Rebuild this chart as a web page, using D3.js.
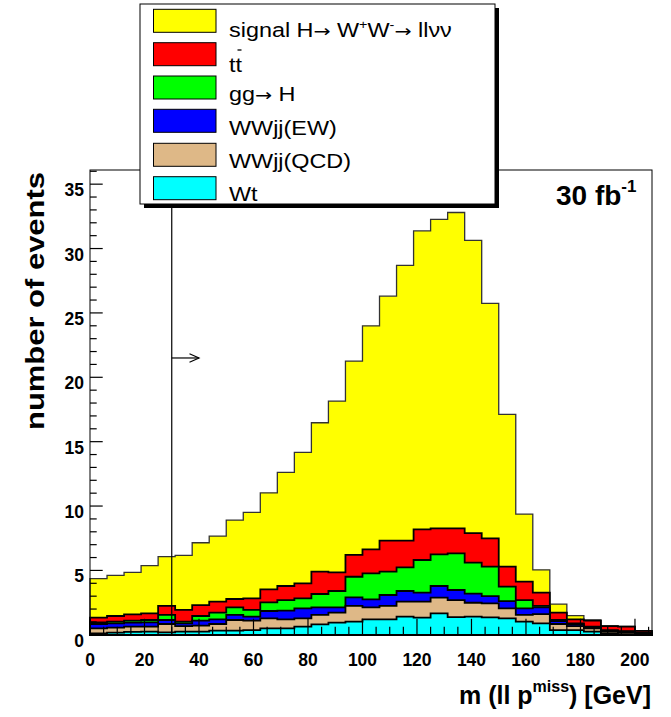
<!DOCTYPE html>
<html><head><meta charset="utf-8">
<script src="https://cdn.jsdelivr.net/npm/d3@7/dist/d3.min.js"></script>
<style>body{margin:0;background:#fff;} svg{display:block;}</style>
</head><body>
<svg id="c" width="671" height="717"></svg>
<script>
// ---- data (bins of 6.25 GeV starting at 0) ----
const binWidth = 6.25;
const xTicks = [0,20,40,60,80,100,120,140,160,180,200];
const yTicks = [0,5,10,15,20,25,30,35];
const seriesNames = ["signal H\u2192 W+W-\u2192 ll\u03bd\u03bd","tt","gg\u2192 H","WWjj(EW)","WWjj(QCD)","Wt"];
const seriesColors = ["#ffff00","#ff0000","#00ff00","#0000ff","#deb887","#00ffff"];
// per-bin contributions
const wt  = [0.11,0.17,0.22,0.24,0.19,0.24,0.24,0.32,0.32,0.37,0.50,0.50,0.63,0.81,0.94,1.02,1.20,1.20,1.41,1.33,1.67,1.38,1.41,1.36,1.28,1.02,0.89,0.37,0.37,0.24,0.11,0.06,0.03];
const qcd = [0.39,0.38,0.41,0.39,0.65,0.44,0.47,0.52,0.83,0.73,0.78,0.70,0.65,0.73,0.78,1.22,0.93,1.04,1.16,1.24,1.21,1.32,1.08,1.08,0.78,0.52,0.72,0.47,0.31,0.26,0.13,0.14,0.07];
const ew  = [0.34,0.34,0.31,0.34,0.31,0.21,0.39,0.36,0.39,0.31,0.57,0.67,0.78,0.59,0.41,0.67,0.62,0.85,0.83,0.70,0.91,0.78,0.71,0.57,0.56,0.52,0.52,0.23,0.13,0.07,0.06,0.05,0.02];
const ggh = [0.13,0.13,0.16,0.18,0.39,0.13,0.36,0.52,0.59,0.52,0.67,0.83,0.77,1.04,1.27,1.60,2.02,1.81,1.84,2.54,2.46,2.85,2.40,2.28,1.12,0.64,0.11,0.08,0.08,0.06,0.07,0.04,0.05];
const tt  = [0.36,0.44,0.49,0.52,0.70,0.91,0.85,0.85,0.65,0.90,1.01,1.09,1.17,1.73,1.45,1.69,1.87,2.41,2.07,2.38,2.02,1.94,2.30,2.20,1.55,1.43,1.03,0.57,0.31,0.47,0.31,0.34,0.13];
const sig = [3.03,3.16,3.26,3.70,3.83,4.24,4.84,5.10,6.13,6.68,7.50,8.83,10.17,11.57,13.30,15.06,17.36,18.99,21.38,23.18,23.99,24.53,22.73,18.25,11.83,5.25,1.78,0.67,0.29,0.05,0.02,0.02,0.01];
const cutValue = 30, arrowEnd = 40, arrowLevel = 21.5;

// ---- chart ----
const svg = d3.select("#c");
const nBins = wt.length;
const x = d3.scaleLinear().domain([0, nBins*binWidth]).range([90, 652]);
const y = d3.scaleLinear().domain([0, 36.1]).range([634.8, 170]);

const keys = ["wt","qcd","ew","ggh","tt","sig"];
const rows = wt.map((d,i)=>({wt:wt[i],qcd:qcd[i],ew:ew[i],ggh:ggh[i],tt:tt[i],sig:sig[i]}));
const stacked = d3.stack().keys(keys)(rows);
const colorByKey = {sig:seriesColors[0],tt:seriesColors[1],ggh:seriesColors[2],ew:seriesColors[3],qcd:seriesColors[4],wt:seriesColors[5]};

const area = d3.area().curve(d3.curveStepAfter)
  .x(d=>x(d.x)).y0(y(0)).y1(d=>y(d.v));

stacked.slice().reverse().forEach(layer=>{
  const pts = layer.map((d,i)=>({x:i*binWidth, v:d[1]}));
  pts.push({x:nBins*binWidth, v:layer[nBins-1][1]});
  svg.append("path").attr("d", area(pts))
    .attr("fill", colorByKey[layer.key])
    .attr("stroke", layer.key==="sig" ? "#333" : "#000")
    .attr("stroke-width", layer.key==="sig" ? 1.3 : 1.8)
    .attr("stroke-linejoin","miter");
});

// frame
svg.append("rect").attr("x",x(0)).attr("y",y.range()[1])
  .attr("width",x.range()[1]-x(0)).attr("height",y(0)-y.range()[1])
  .attr("fill","none").attr("stroke","#000").attr("stroke-width",1);

// x ticks
const xMinor = d3.range(0, nBins*binWidth+0.001, 5);
xMinor.forEach(v=>{
  const major = v % 20 === 0;
  svg.append("line").attr("x1",x(v)).attr("x2",x(v))
    .attr("y1",y(0)).attr("y2",y(0)-(major?16:8))
    .attr("stroke","#000").attr("stroke-width",1.2);
});
// y ticks
d3.range(0, 36.1, 1).forEach(v=>{
  const major = v % 5 === 0;
  svg.append("line").attr("x1",x(0)).attr("x2",x(0)+(major?12.7:6.7))
    .attr("y1",y(v)).attr("y2",y(v))
    .attr("stroke","#000").attr("stroke-width",1.2);
});

const fontB = "'Liberation Sans', Arial, Helvetica, sans-serif";
svg.selectAll(".xl").data(xTicks).enter().append("text")
  .attr("x",d=>x(d)).attr("y",666).attr("text-anchor","middle")
  .attr("font-family",fontB).attr("font-weight","bold").attr("font-size",17.5)
  .text(d=>d);
svg.selectAll(".yl").data(yTicks).enter().append("text")
  .attr("x",84).attr("y",d=>y(d)+12).attr("text-anchor","end")
  .attr("font-family",fontB).attr("font-weight","bold").attr("font-size",17.5)
  .text(d=>d);

// axis titles
svg.append("text").attr("transform","translate(44,301) rotate(-90)")
  .attr("text-anchor","middle").attr("font-family",fontB).attr("font-weight","bold")
  .attr("font-size",26).attr("textLength",258).attr("lengthAdjust","spacingAndGlyphs")
  .text("number of events");
const xt = svg.append("text").attr("x",651).attr("y",704).attr("text-anchor","end")
  .attr("font-family",fontB).attr("font-weight","bold").attr("font-size",25);
xt.append("tspan").text("m (ll p");
xt.append("tspan").attr("dy",-12).attr("font-size",16).text("miss");
xt.append("tspan").attr("dy",12).text(") [GeV]");

// luminosity
const lum = svg.append("text").attr("x",556).attr("y",205)
  .attr("font-family",fontB).attr("font-weight","bold").attr("font-size",28);
lum.append("tspan").text("30 fb");
lum.append("tspan").attr("dy",-13).attr("font-size",17).text("-1");

// cut line and arrow
svg.append("line").attr("x1",x(cutValue)).attr("x2",x(cutValue))
  .attr("y1",y.range()[1]).attr("y2",y(0)).attr("stroke","#000").attr("stroke-width",1.2);
svg.append("line").attr("x1",x(cutValue)).attr("x2",x(arrowEnd))
  .attr("y1",y(arrowLevel)).attr("y2",y(arrowLevel)).attr("stroke","#000").attr("stroke-width",1.2);
svg.append("path").attr("d",`M${x(arrowEnd)-9.5},${y(arrowLevel)-4.2}L${x(arrowEnd)},${y(arrowLevel)}L${x(arrowEnd)-9.5},${y(arrowLevel)+4.2}`)
  .attr("fill","none").attr("stroke","#000").attr("stroke-width",1.2);

// legend
const lg = svg.append("g");
lg.append("rect").attr("x",144).attr("y",8).attr("width",355).attr("height",200).attr("fill","#000");
lg.append("rect").attr("x",140).attr("y",4).attr("width",355).attr("height",200)
  .attr("fill","#fff").attr("stroke","#000").attr("stroke-width",1);
const rowTop = [9.3,42.7,76,109.3,143.3,176.7];
const baseLines = [36.7,72,101,134.5,167.5,200.7];
const arrowFont = "'DejaVu Sans', sans-serif";
seriesNames.forEach((name,i)=>{
  lg.append("rect").attr("x",153.5).attr("y",rowTop[i]).attr("width",62.5).attr("height",23)
    .attr("fill",seriesColors[i]).attr("stroke","#000").attr("stroke-width",1);
  const t = lg.append("text").attr("transform",`translate(229,${baseLines[i]}) scale(1.2,1)`)
    .attr("font-family",fontB).attr("font-size",19.5);
  if(i===0){
    t.append("tspan").text("signal H");
    t.append("tspan").attr("font-family",arrowFont).attr("font-size",17).text("\u2192");
    t.append("tspan").text(" W");
    t.append("tspan").attr("dy",-8).attr("font-size",12).text("+");
    t.append("tspan").attr("dy",8).text("W");
    t.append("tspan").attr("dy",-8).attr("font-size",12).text("-");
    t.append("tspan").attr("dy",8).attr("font-family",arrowFont).attr("font-size",17).text("\u2192");
    t.append("tspan").text(" ll\u03bd\u03bd");
  } else if(i===1){
    t.text("tt");
    lg.append("line").attr("x1",237.5).attr("x2",241.5).attr("y1",50).attr("y2",50)
      .attr("stroke","#000").attr("stroke-width",1.3);
  } else if(i===2){
    t.append("tspan").text("gg");
    t.append("tspan").attr("font-family",arrowFont).attr("font-size",17).text("\u2192");
    t.append("tspan").text(" H");
  } else {
    t.text(name);
  }
});
</script>
</body></html>
